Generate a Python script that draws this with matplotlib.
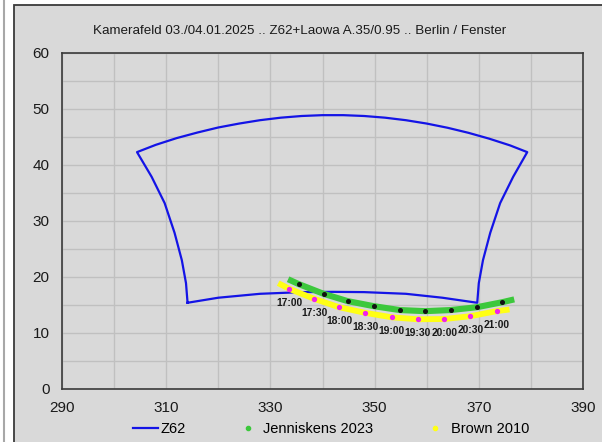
import matplotlib
matplotlib.use("Agg")
import matplotlib.pyplot as plt
from matplotlib.lines import Line2D
from matplotlib.patches import Rectangle

plt.rcParams["font.family"] = ["Liberation Sans", "DejaVu Sans"]

# Camera field outline (azimuth, altitude), closed polygon:
# left edge up, top edge left->right, right edge down, bottom edge back
z62_az = [314.1, 313.8, 313.0, 311.6, 309.7, 307.2, 304.4,
          308.0, 312.0, 316.0, 320.0, 324.0, 328.0, 332.0, 336.0, 340.0,
          344.0, 348.0, 352.0, 356.0, 360.0, 364.0, 368.0, 372.0, 376.0, 379.3,
          376.6, 374.1, 372.2, 370.8, 370.0, 369.7,
          363.0, 356.0, 348.0, 342.0, 336.0, 328.0, 320.0, 314.1]
z62_alt = [15.4, 18.9, 23.0, 27.9, 33.2, 37.9, 42.3,
           43.6, 44.8, 45.8, 46.7, 47.4, 48.0, 48.45, 48.75, 48.9,
           48.9, 48.75, 48.45, 48.0, 47.4, 46.65, 45.75, 44.7, 43.5, 42.3,
           37.9, 33.2, 27.9, 23.0, 18.9, 15.4,
           16.3, 17.0, 17.3, 17.35, 17.3, 17.0, 16.3, 15.4]

# Radiant track, Jenniskens 2023
jen_az = [333.4, 335.4, 340.2, 344.8, 349.8, 354.8, 359.7, 364.6, 369.6, 374.5, 376.8]
jen_alt = [19.6, 18.75, 17.0, 15.7, 14.8, 14.1, 13.9, 14.1, 14.6, 15.5, 16.0]
jen_hour_az = [335.4, 340.2, 344.8, 349.8, 354.8, 359.7, 364.6, 369.6, 374.5]
jen_hour_alt = [18.75, 17.0, 15.7, 14.8, 14.1, 13.9, 14.1, 14.6, 15.5]

# Radiant track, Brown 2010
brown_az = [331.5, 333.6, 338.4, 343.2, 348.2, 353.3, 358.3, 363.4, 368.4, 373.4, 375.9]
brown_alt = [18.9, 17.9, 16.1, 14.6, 13.6, 12.8, 12.45, 12.5, 13.0, 13.9, 14.2]
brown_hour_az = [333.6, 338.4, 343.2, 348.2, 353.3, 358.3, 363.4, 368.4, 373.4]
brown_hour_alt = [17.9, 16.1, 14.6, 13.6, 12.8, 12.45, 12.5, 13.0, 13.9]
hour_labels = ["17:00", "17:30", "18:00", "18:30", "19:00",
               "19:30", "20:00", "20:30", "21:00"]

x_ticks = list(range(290, 391, 10))
x_labels = ["290", "", "310", "", "330", "", "350", "", "370", "", "390"]
y_ticks = list(range(0, 61, 5))
y_labels = ["0", "", "10", "", "20", "", "30", "", "40", "", "50", "", "60"]

bg = "#d9d9d9"
fig = plt.figure(figsize=(6.02, 4.42), dpi=100, facecolor="white")

# chart frame
fig.patches.append(Rectangle((14 / 602, -0.1), 1.1, 1.1 - 5 / 442,
                             transform=fig.transFigure, facecolor=bg,
                             edgecolor="#3a3a3a", linewidth=1.3, zorder=0))
fig.add_artist(Line2D([3.5 / 602, 3.5 / 602], [0, 1], transform=fig.transFigure,
                      color="#a8a8a8", linewidth=1.5, zorder=0))

ax = fig.add_axes([62 / 602, 1 - 389 / 442, 521 / 602, 336 / 442])
ax.set_zorder(2)
ax.set_facecolor(bg)

ax.plot(z62_az, z62_alt, color="#1414e6", linewidth=1.6, zorder=3)
ax.plot(jen_az, jen_alt, color="#3cc83c", linewidth=4.4,
        solid_capstyle="butt", zorder=4)
ax.plot(jen_hour_az, jen_hour_alt, "o", color="#111111", markersize=2.6, zorder=5)
ax.plot(brown_az, brown_alt, color="#ffff14", linewidth=4.2,
        solid_capstyle="butt", zorder=4)
ax.plot(brown_hour_az, brown_hour_alt, "o", color="#f020f0", markersize=2.8, zorder=5)

for az, alt, lab in zip(brown_hour_az, brown_hour_alt, hour_labels):
    ax.annotate(lab, (az, alt), xytext=(0, -10), textcoords="offset points",
                ha="center", va="center", fontsize=7.4, fontweight="bold",
                color="#1a1a1a", zorder=6)

ax.set_xlim(290, 390)
ax.set_ylim(0, 60)
ax.set_xticks(x_ticks)
ax.set_xticklabels(x_labels)
ax.set_yticks(y_ticks)
ax.set_yticklabels(y_labels)
ax.tick_params(length=0, labelsize=11, colors="#1a1a1a", pad=9)
ax.grid(True, color="#c0c0c0", linewidth=1.0)
ax.set_axisbelow(True)
for s in ax.spines.values():
    s.set_color("#3a3a3a")
    s.set_linewidth(1.2)

fig.text(300 / 602, 1 - 31 / 442, "Kamerafeld 03./04.01.2025 .. Z62+Laowa A.35/0.95 .. Berlin / Fenster",
         ha="center", va="center", fontsize=9.6, color="#1a1a1a")

handles = [
    Line2D([], [], color="#1414e6", linewidth=1.6),
    Line2D([], [], linestyle="none", marker="o", color="#3cc83c", markersize=3),
    Line2D([], [], linestyle="none", marker="o", color="#ffff14", markersize=3),
]
fig.legend(handles, ["Z62", "Jenniskens 2023", "Brown 2010"], loc="center",
           bbox_to_anchor=(331 / 602, 1 - 429 / 442), ncol=3, frameon=False,
           fontsize=10.5, handlelength=1.7, handletextpad=0.2, columnspacing=3.4,
           borderpad=0, borderaxespad=0)

fig.savefig("out.png", dpi=100, facecolor="white")
